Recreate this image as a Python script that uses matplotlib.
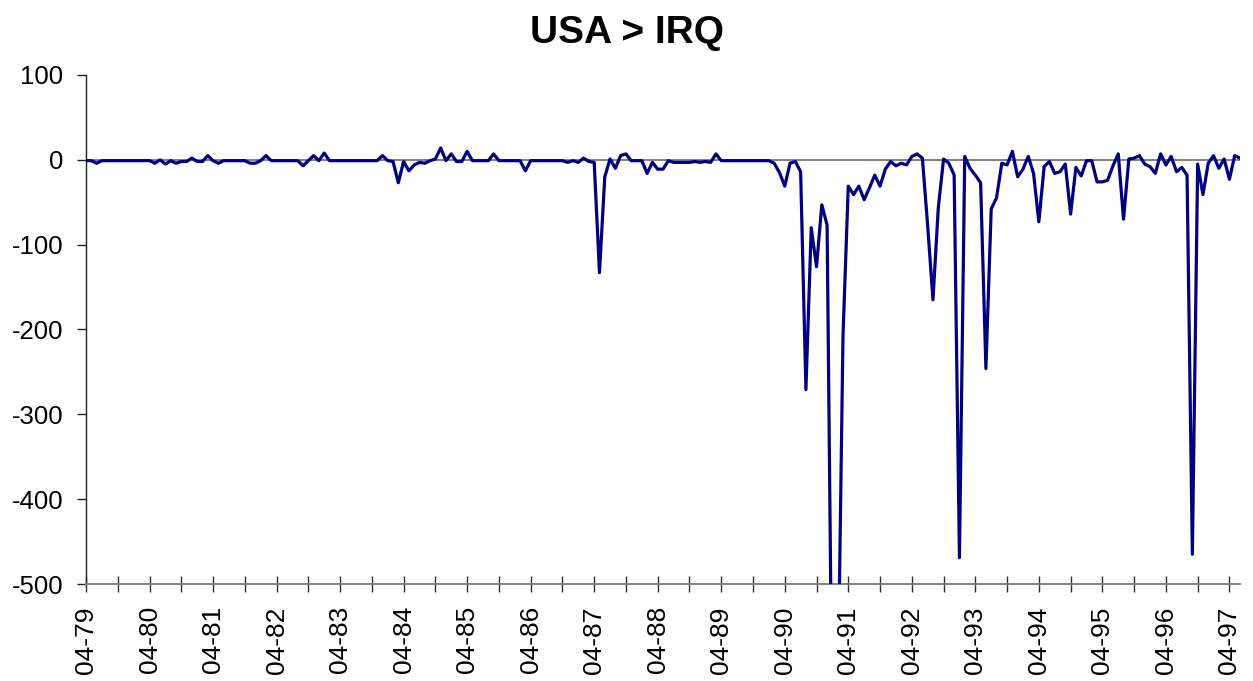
import numpy as np
import matplotlib
matplotlib.use('Agg')
import matplotlib.pyplot as plt

plt.rcParams['font.family'] = ['Liberation Sans', 'DejaVu Sans']
plt.rcParams['axes.unicode_minus'] = False

# monthly values, 04-79 .. 06-97
values = [
    -1, -1, -4, -1, -1, -1, -1, -1, -1, -1, -1, -1,      # 79-80
    -1, -4, 0, -5, -1, -4, -2, -2, +2, -2, -2, +5,       # 80-81
    -1, -4, -1, -1, -1, -1, -1, -4, -4, -1, +5, -1,      # 81-82
    -1, -1, -1, -1, -1, -7, -1, +5, -1, +8, -1, -1,      # 82-83
    -1, -1, -1, -1, -1, -1, -1, -1, +5, -1, -2, -27,     # 83-84
    -2, -13, -6, -3, -4, -1, +1, +14, -1, +7, -2, -2,    # 84-85
    +10, -1, -1, -1, -1, +7, -1, -1, -1, -1, -1, -13,    # 85-86
    -1, -1, -1, -1, -1, -1, -1, -3, -1, -3, +2, -2,      # 86-87
    -3, -133, -20, +1, -10, +5, +7, -1, -1, -1, -16, -3, # 87-88
    -11, -11, -1, -3, -3, -3, -3, -2, -3, -2, -3, +7,    # 88-89
    -1, -1, -1, -1, -1, -1, -1, -1, -1, -1, -4, -15,     # 89-90
    -31, -4, -2, -14, -271, -80, -126, -53, -77, -700, -650, -208,  # 90-91
    -31, -41, -31, -47, -33, -18, -31, -11, -2, -7, -4, -6,          # 91-92
    +4, +7, +2, -78, -165, -57, +1, -4, -18, -469, +4, -10,          # 92-93
    -18, -27, -246, -58, -45, -4, -6, +10, -20, -11, +4, -16,        # 93-94
    -73, -8, -2, -16, -14, -5, -64, -9, -19, -1, -1, -26,            # 94-95
    -26, -24, -7, +7, -70, +1, +2, +5, -5, -8, -16, +7,              # 95-96
    -6, +4, -14, -9, -18, -465, -5, -41, -4, +5, -10, +1,            # 96-97
    -23, +5, +2,                                                      # 97
]
years = ['79', '80', '81', '82', '83', '84', '85', '86', '87', '88',
         '89', '90', '91', '92', '93', '94', '95', '96', '97']
tick_labels = ['04-' + y for y in years]
title = 'USA > IRQ'

months = np.arange(len(values))
navy = '#000080'
grey = '#808080'

fig = plt.figure(figsize=(12.53, 6.81), dpi=100)
ax = fig.add_axes([86 / 1253, 97 / 681, (1240 - 86) / 1253, (584 - 75) / 681])

ax.axhline(0, color=grey, lw=1.4, zorder=1)
ax.plot(months, values, color=navy, lw=2.3, zorder=3)

ax.set_xlim(0, len(values) - 1)
ax.set_ylim(-500, 100)
ax.set_yticks(np.arange(-500, 101, 100))
ax.set_xticks(np.arange(0, len(values), 12))
ax.set_xticklabels(tick_labels, rotation=90, fontsize=19)
ax.set_xticks(np.arange(6, len(values), 12), minor=True)

for s in ['top', 'right']:
    ax.spines[s].set_visible(False)
ax.spines['left'].set_color('#202020')
ax.spines['left'].set_linewidth(1.0)
ax.spines['bottom'].set_color(grey)
ax.spines['bottom'].set_linewidth(1.4)

ax.tick_params(axis='y', direction='out', length=6.5, width=1.0,
               color='#202020', labelsize=18.5, pad=10)
ax.tick_params(axis='x', which='both', direction='inout', length=12,
               width=1.0, color='#303030', pad=10)

fig.suptitle(title, fontsize=28, fontweight='bold', y=0.978)

fig.savefig('out.png', dpi=100)
